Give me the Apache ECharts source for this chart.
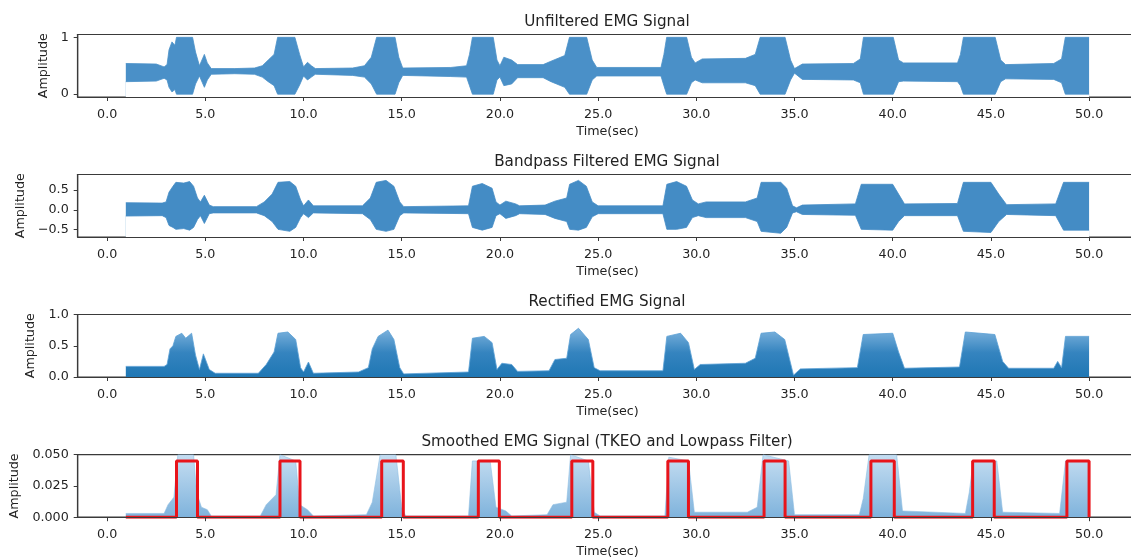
<!DOCTYPE html>
<html>
<head>
<meta charset="utf-8">
<script src="https://cdn.jsdelivr.net/npm/echarts@6/dist/echarts.min.js"></script>
<style>
  html, body { margin: 0; padding: 0; background: #fff; }
  #emgChart { width: 1131px; height: 558px; }
</style>
</head>
<body>
<div id="emgChart"></div>
<script>
// envelope breakpoints (time in sec)
const unfTime = [0.95, 2.5, 2.9, 3.05, 3.15, 3.3, 3.45, 3.53, 4.35, 4.5, 4.7, 4.85, 4.95, 5.1, 5.3,
  6.5, 7.5, 7.9, 8.2, 8.5, 8.68, 9.56, 9.8, 10.0, 10.2, 10.4, 10.6,
  12.5, 13.1, 13.45, 13.72, 14.66, 14.85, 15.05,
  17.5, 18.3, 18.45, 18.6, 19.66, 19.85, 20.0, 20.2, 20.6, 20.9,
  22.2, 22.6, 23.3, 23.54, 24.42, 24.7, 24.93,
  28.2, 28.35, 28.49, 29.51, 29.75, 29.94, 30.3,
  32.5, 33.0, 33.25, 34.52, 34.8, 35.0, 35.4,
  38.0, 38.35, 38.51, 40.03, 40.3, 40.55,
  43.3, 43.45, 43.6, 45.22, 45.5, 45.75,
  48.2, 48.6, 48.79, 50.0]
const unfUpper = [0.54, 0.53, 0.48, 0.52, 0.78, 0.92, 0.86, 1.0, 1.0, 0.74, 0.5, 0.62, 0.7, 0.55, 0.45,
  0.45, 0.46, 0.5, 0.6, 0.7, 1.0, 1.0, 0.7, 0.48, 0.56, 0.5, 0.45,
  0.46, 0.5, 0.65, 1.0, 1.0, 0.65, 0.46,
  0.47, 0.5, 0.7, 1.0, 1.0, 0.6, 0.5, 0.65, 0.6, 0.52,
  0.52, 0.58, 0.68, 1.0, 1.0, 0.6, 0.47,
  0.47, 0.7, 1.0, 1.0, 0.65, 0.55, 0.62,
  0.63, 0.7, 1.0, 1.0, 0.6, 0.45, 0.53,
  0.54, 0.62, 1.0, 1.0, 0.6, 0.55,
  0.55, 0.7, 1.0, 1.0, 0.6, 0.52,
  0.54, 0.62, 1.0, 1.0]
const unfLower = [0.22, 0.23, 0.28, 0.25, 0.12, 0.04, 0.08, 0.0, 0.0, 0.18, 0.32, 0.2, 0.12, 0.25, 0.35,
  0.36, 0.35, 0.3, 0.22, 0.15, 0.0, 0.0, 0.16, 0.32, 0.25, 0.3, 0.35,
  0.33, 0.3, 0.18, 0.0, 0.0, 0.2, 0.33,
  0.31, 0.3, 0.15, 0.0, 0.0, 0.25, 0.3, 0.15, 0.18, 0.29,
  0.29, 0.22, 0.12, 0.0, 0.0, 0.25, 0.32,
  0.32, 0.15, 0.0, 0.0, 0.2, 0.25, 0.2,
  0.2, 0.15, 0.0, 0.0, 0.25, 0.37, 0.26,
  0.25, 0.2, 0.0, 0.0, 0.22, 0.23,
  0.22, 0.15, 0.0, 0.0, 0.22, 0.27,
  0.26, 0.2, 0.0, 0.0]

const bpTime = [0.95, 2.8, 3.0, 3.15, 3.35, 3.5, 3.9, 4.2, 4.4, 4.6, 4.75, 4.95, 5.2, 5.4,
  7.6, 8.0, 8.4, 8.7, 9.3, 9.6, 9.85, 10.0, 10.25, 10.5,
  13.0, 13.4, 13.7, 14.2, 14.6, 14.9, 15.1,
  18.4, 18.6, 19.1, 19.6, 19.8, 20.0, 20.3, 20.8, 21.0,
  22.3, 22.8, 23.4, 23.55, 24.0, 24.4, 24.7, 25.0,
  28.3, 28.5, 29.0, 29.5, 29.8, 30.1, 30.5,
  32.5, 33.1, 33.3, 34.3, 34.6, 34.9, 35.1, 35.4,
  38.1, 38.4, 40.0, 40.3, 40.6,
  43.3, 43.6, 45.0, 45.4, 45.8,
  48.3, 48.7, 50.0]
const bpUpper = [0.18, 0.17, 0.2, 0.45, 0.6, 0.7, 0.68, 0.72, 0.6, 0.3, 0.2, 0.37, 0.12, 0.08,
  0.08, 0.2, 0.4, 0.7, 0.72, 0.6, 0.25, 0.1, 0.25, 0.1,
  0.1, 0.3, 0.7, 0.75, 0.6, 0.2, 0.08,
  0.1, 0.6, 0.67, 0.55, 0.2, 0.12, 0.22, 0.15, 0.1,
  0.12, 0.22, 0.3, 0.65, 0.75, 0.6, 0.2, 0.1,
  0.1, 0.65, 0.72, 0.6, 0.25, 0.15, 0.2,
  0.2, 0.3, 0.7, 0.7, 0.55, 0.1, 0.05, 0.12,
  0.15, 0.65, 0.65, 0.4, 0.15,
  0.16, 0.7, 0.7, 0.4, 0.13,
  0.15, 0.7, 0.7]
const bpLower = [-0.16, -0.15, -0.2, -0.4, -0.45, -0.5, -0.48, -0.52, -0.45, -0.25, -0.15, -0.35, -0.1, -0.08,
  -0.08, -0.15, -0.3, -0.5, -0.55, -0.45, -0.2, -0.1, -0.2, -0.08,
  -0.1, -0.25, -0.5, -0.55, -0.5, -0.15, -0.08,
  -0.1, -0.45, -0.52, -0.45, -0.15, -0.1, -0.22, -0.15, -0.1,
  -0.12, -0.22, -0.3, -0.5, -0.52, -0.45, -0.18, -0.1,
  -0.1, -0.5, -0.5, -0.45, -0.2, -0.15, -0.2,
  -0.2, -0.3, -0.55, -0.6, -0.45, -0.08, -0.05, -0.12,
  -0.14, -0.5, -0.52, -0.3, -0.15,
  -0.15, -0.55, -0.58, -0.3, -0.12,
  -0.15, -0.52, -0.52]

const recTime = [0.95, 2.9, 3.05, 3.2, 3.35, 3.5, 3.8, 4.0, 4.3, 4.5, 4.7, 4.9, 5.2, 5.5,
  7.7, 8.1, 8.5, 8.7, 9.2, 9.6, 9.85, 10.0, 10.25, 10.5,
  12.8, 13.3, 13.5, 13.8, 14.3, 14.6, 14.9, 15.1,
  18.4, 18.6, 19.2, 19.6, 19.85, 20.1, 20.6, 20.9,
  22.5, 22.8, 23.4, 23.6, 24.0, 24.5, 24.8, 25.1,
  28.3, 28.5, 29.2, 29.6, 29.9, 30.2,
  32.5, 33.0, 33.3, 34.0, 34.5, 34.95, 35.3,
  38.2, 38.5, 40.0, 40.3, 40.6,
  43.4, 43.7, 45.2, 45.6, 45.9,
  48.2, 48.4, 48.6, 48.8, 50.0]
const recUpper = [0.17, 0.17, 0.2, 0.45, 0.5, 0.65, 0.7, 0.62, 0.7, 0.35, 0.12, 0.37, 0.12, 0.06,
  0.06, 0.2, 0.4, 0.7, 0.72, 0.6, 0.15, 0.08, 0.24, 0.06,
  0.08, 0.15, 0.45, 0.65, 0.75, 0.6, 0.15, 0.05,
  0.08, 0.62, 0.65, 0.55, 0.12, 0.22, 0.2, 0.09,
  0.1, 0.28, 0.3, 0.68, 0.78, 0.6, 0.15, 0.1,
  0.1, 0.65, 0.7, 0.55, 0.12, 0.2,
  0.22, 0.3, 0.7, 0.72, 0.6, 0.03, 0.13,
  0.15, 0.68, 0.7, 0.4, 0.14,
  0.16, 0.72, 0.68, 0.25, 0.14,
  0.14, 0.25, 0.15, 0.65, 0.65]

const smTime = [0.95, 2.9, 3.1, 3.4, 3.6, 4.4, 4.55, 4.8, 5.1, 5.3,
  7.8, 8.1, 8.6, 8.8, 9.6, 9.8, 10.2, 10.5,
  13.2, 13.5, 13.9, 14.7, 15.0, 15.2,
  18.4, 18.6, 19.5, 19.8, 20.3, 20.6,
  22.4, 22.7, 23.4, 23.6, 24.5, 24.8, 25.1,
  28.4, 28.6, 29.6, 29.9, 30.2,
  32.6, 33.1, 33.4, 34.7, 35.0,
  38.3, 38.5, 38.8, 40.2, 40.5,
  43.7, 43.9, 44.1, 45.3, 45.6,
  48.5, 48.8, 50.0]
const smUpper = [0.003, 0.003, 0.01, 0.016, 0.05, 0.05, 0.02, 0.008, 0.006, 0.001,
  0.001, 0.01, 0.018, 0.05, 0.045, 0.01, 0.006, 0.001,
  0.002, 0.012, 0.05, 0.05, 0.008, 0.001,
  0.001, 0.045, 0.045, 0.008, 0.005, 0.001,
  0.002, 0.01, 0.012, 0.05, 0.045, 0.004, 0.001,
  0.001, 0.048, 0.045, 0.004, 0.004,
  0.004, 0.008, 0.05, 0.045, 0.002,
  0.002, 0.015, 0.05, 0.05, 0.005,
  0.003, 0.02, 0.045, 0.045, 0.004,
  0.003, 0.045, 0.045]

// detected muscle activation windows (red step)
const onsetTimes = [3.53, 8.8, 13.98, 18.9, 23.66, 28.55, 33.45, 38.89, 44.07, 48.87]
const offsetTimes = [4.6, 9.82, 15.08, 19.97, 24.73, 29.6, 34.52, 40.08, 45.17, 50.0]
const activeLevel = 0.045
const signalStart = 0.95

const xTicks = [0, 5, 10, 15, 20, 25, 30, 35, 40, 45, 50]
const titles = ['Unfiltered EMG Signal', 'Bandpass Filtered EMG Signal', 'Rectified EMG Signal',
  'Smoothed EMG Signal (TKEO and Lowpass Filter)']

const FONT = 'DejaVu Sans'
const TXT = '#222'
const SPINE = '#3a3a3a'

const pts = (ts, vs) => ts.map((t, i) => [t, vs[i]])

// step line built from onset / offset times
const stepData = [[signalStart, 0]]
onsetTimes.forEach((on, i) => {
  stepData.push([on, 0], [on, activeLevel], [offsetTimes[i], activeLevel], [offsetTimes[i], 0])
})

const gridTops = [34.5, 174.5, 314.5, 454.7]
const yCfg = [
  { min: -0.05, max: 1.05, ticks: [0, 1], fmt: (v) => String(v), gap: 22 },
  { min: -0.695, max: 0.9, ticks: [-0.5, 0, 0.5], fmt: (v) => (v < 0 ? '\u2212' + (-v).toFixed(1) : v.toFixed(1)), gap: 47 },
  { min: 0, max: 1, ticks: [0, 0.5, 1], fmt: (v) => v.toFixed(1), gap: 33 },
  { min: 0, max: 0.05, ticks: [0, 0.025, 0.05], fmt: (v) => v.toFixed(3), gap: 51 },
]

const chart = echarts.init(document.getElementById('emgChart'))

const option = {
  animation: false,
  backgroundColor: '#fff',
  title: titles.map((t, i) => ({
    text: t,
    left: 607,
    top: gridTops[i] - 20,
    textAlign: 'center',
    padding: 0,
    textStyle: { fontFamily: FONT, fontSize: 15.2, fontWeight: 'normal', color: TXT },
  })),
  grid: gridTops.map((top) => ({
    left: 77.7,
    top: top,
    width: 1059.5,
    height: 62.5,
    show: true,
    borderColor: SPINE,
    borderWidth: 1.2,
    backgroundColor: 'transparent',
    containLabel: false,
    outerBoundsMode: 'none',
  })),
  xAxis: gridTops.map((_, i) => ({
    gridIndex: i,
    type: 'value',
    min: -1.5,
    max: 52.45,
    z: 10,
    name: 'Time(sec)',
    nameLocation: 'middle',
    nameGap: 28,
    nameTextStyle: { fontFamily: FONT, fontSize: 12.7, color: TXT },
    axisLine: { show: true, onZero: false, lineStyle: { color: SPINE, width: 1.2 } },
    axisTick: { show: true, length: 4, customValues: xTicks, lineStyle: { color: SPINE, width: 1 } },
    axisLabel: { customValues: xTicks, formatter: (v) => v.toFixed(1), margin: 11, fontFamily: FONT, fontSize: 12.7, color: TXT },
    splitLine: { show: false },
  })),
  yAxis: yCfg.map((c, i) => ({
    gridIndex: i,
    type: 'value',
    min: c.min,
    max: c.max,
    z: 10,
    name: 'Amplitude',
    nameLocation: 'middle',
    nameGap: c.gap,
    nameTextStyle: { fontFamily: FONT, fontSize: 12.7, color: TXT },
    axisLine: { show: true, onZero: false, lineStyle: { color: SPINE, width: 1.2 } },
    axisTick: { show: true, length: 4, customValues: c.ticks, lineStyle: { color: SPINE, width: 1 } },
    axisLabel: { customValues: c.ticks, formatter: c.fmt, margin: 9, fontFamily: FONT, fontSize: 12.7, color: TXT },
    splitLine: { show: false },
  })),
  series: [
    // unfiltered: fill up to upper envelope, then blank out below lower envelope
    {
      type: 'line', xAxisIndex: 0, yAxisIndex: 0, data: pts(unfTime, unfUpper),
      symbol: 'none', z: 2,
      lineStyle: { width: 0.8, color: '#4a90c8' },
      areaStyle: { origin: 'start', color: '#4a90c8', opacity: 1 },
    },
    {
      type: 'line', xAxisIndex: 0, yAxisIndex: 0, data: pts(unfTime, unfLower),
      symbol: 'none', z: 3,
      lineStyle: { width: 0.8, color: '#4a90c8' },
      areaStyle: { origin: 'start', color: '#fff', opacity: 1 },
    },
    // bandpass
    {
      type: 'line', xAxisIndex: 1, yAxisIndex: 1, data: pts(bpTime, bpUpper),
      symbol: 'none', z: 2,
      lineStyle: { width: 0.8, color: '#448cc5' },
      areaStyle: { origin: 'start', color: '#448cc5', opacity: 1 },
    },
    {
      type: 'line', xAxisIndex: 1, yAxisIndex: 1, data: pts(bpTime, bpLower),
      symbol: 'none', z: 3,
      lineStyle: { width: 0.8, color: '#448cc5' },
      areaStyle: { origin: 'start', color: '#fff', opacity: 1 },
    },
    // rectified
    {
      type: 'line', xAxisIndex: 2, yAxisIndex: 2, data: pts(recTime, recUpper),
      symbol: 'none', z: 2,
      lineStyle: { width: 0.8, color: '#5a9fd4' },
      areaStyle: {
        origin: 'start',
        opacity: 1,
        color: new echarts.graphic.LinearGradient(0, 0, 0, 1, [
          { offset: 0, color: '#7fb4de' },
          { offset: 0.5, color: '#3584bf' },
          { offset: 1, color: '#1f77b4' },
        ]),
      },
    },
    // smoothed (TKEO + lowpass)
    {
      type: 'line', xAxisIndex: 3, yAxisIndex: 3, data: pts(smTime, smUpper),
      symbol: 'none', z: 2,
      lineStyle: { width: 0.6, color: '#8dbde3' },
      areaStyle: {
        origin: 'start',
        opacity: 1,
        color: new echarts.graphic.LinearGradient(0, 0, 0, 1, [
          { offset: 0, color: '#c6def2' },
          { offset: 1, color: '#7fb3dc' },
        ]),
      },
    },
    {
      type: 'line', xAxisIndex: 3, yAxisIndex: 3, data: stepData,
      symbol: 'none', z: 4,
      lineStyle: { width: 3, color: '#e8141b' },
    },
  ],
}

chart.setOption(option)
</script>
</body>
</html>
